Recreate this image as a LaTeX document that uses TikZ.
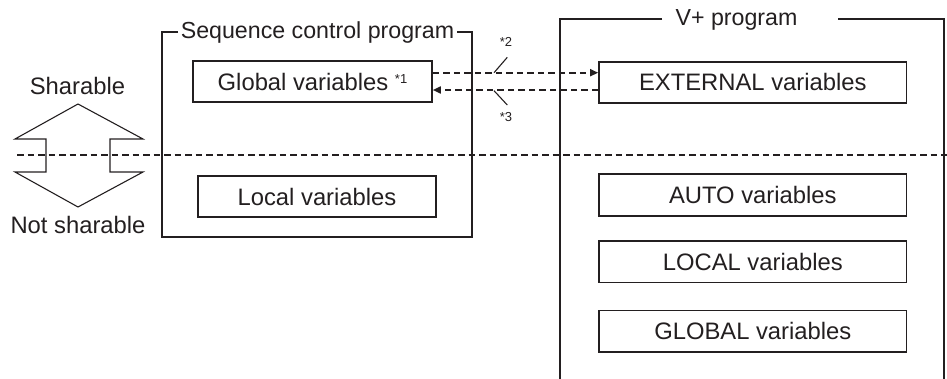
\documentclass[tikz,border=0pt]{standalone}
\usepackage{fontspec}
\setmainfont{Liberation Sans}
\usetikzlibrary{arrows.meta}
\definecolor{ink}{RGB}{35,31,32}
\tikzset{
  varbox/.style={draw=ink, line width=1.6pt, inner sep=0pt, text=ink,
    font=\fontsize{23.8}{28}\selectfont, text height=17pt, text depth=0pt},
  titletext/.style={inner sep=0pt, text=ink,
    font=\fontsize{23.2}{28}\selectfont, text height=16.6pt, text depth=0pt},
  notetext/.style={inner sep=0pt, text=ink,
    font=\fontsize{13}{15}\selectfont, text height=9.3pt, text depth=0pt},
  frameline/.style={draw=ink, line width=2pt},
  dashline/.style={draw=ink, line width=1.7pt, dash pattern=on 6.5pt off 4pt},
  tipline/.style={dashline, -{Triangle[length=8pt,width=7pt]}},
  thinline/.style={draw=ink, line width=1.1pt, line join=miter},
}
\begin{document}
\begin{tikzpicture}[x=1pt,y=-1pt]
\useasboundingbox (0,0) rectangle (947,378);

% sequence control program frame
\draw[frameline] (178,31.7) -- (162,31.7) -- (162,236.7) -- (471.7,236.7) -- (471.7,31.7) -- (457,31.7);
\node[titletext] (seqtitle) at (317.5,30.5) {Sequence control program};

% V+ program frame
\draw[frameline] (662,19) -- (559.5,19) -- (559.5,380);
\draw[frameline] (838,19) -- (944,19) -- (944,380);
\node[titletext] (vtitle) at (736.5,17) {V+ program};

% boxes
\node[varbox, minimum width=239pt, minimum height=41pt] (glob) at (312.5,81.5)
  {Global variables \raisebox{7pt}{\fontsize{13}{15}\selectfont *1}};
\node[varbox, minimum width=238pt, minimum height=41pt] (loc) at (317,196.5) {Local variables};
\node[varbox, minimum width=307.7pt, minimum height=41pt] (ext) at (752.8,82.3) {EXTERNAL variables};
\node[varbox, minimum width=307.7pt, minimum height=42pt] (auto) at (752.8,195) {AUTO variables};
\node[varbox, minimum width=307.7pt, minimum height=41.5pt] (lcl) at (752.8,261.7) {LOCAL variables};
\node[varbox, minimum width=307.7pt, minimum height=41.5pt] (gbl) at (752.8,331.2) {GLOBAL variables};

% horizontal dashed division line
\coordinate (divL) at (17,155);
\coordinate (divR) at (947,155);
\draw[dashline] (divL) -- (divR);

% arrows between global and external
\coordinate (a1) at (0,72.7);
\coordinate (a2) at (0,90);
\draw[tipline] (glob.east |- a1) -- (ext.west |- a1);
\draw[tipline] (ext.west |- a2) -- (glob.east |- a2);

% slash markers and notes
\draw[thinline] (494,72.7) -- (507.3,57.3);
\draw[thinline] (494,90.7) -- (507.3,105);
\node[notetext] (n2) at (506,41.7) {*2};
\node[notetext] (n3) at (506,117.3) {*3};

% sharable / not sharable double arrow
\draw[thinline] (15,139) -- (78,104) -- (143,139) -- (110,139) -- (110,172) -- (143,172)
  -- (78,207) -- (15,172) -- (46,172) -- (46,139) -- cycle;
\node[titletext, font=\fontsize{23.8}{28}\selectfont, text height=17pt] (shar) at (77.5,86) {Sharable};
\node[titletext, font=\fontsize{23.8}{28}\selectfont, text height=17pt] (nshar) at (78,225) {Not sharable};
\end{tikzpicture}
\end{document}
